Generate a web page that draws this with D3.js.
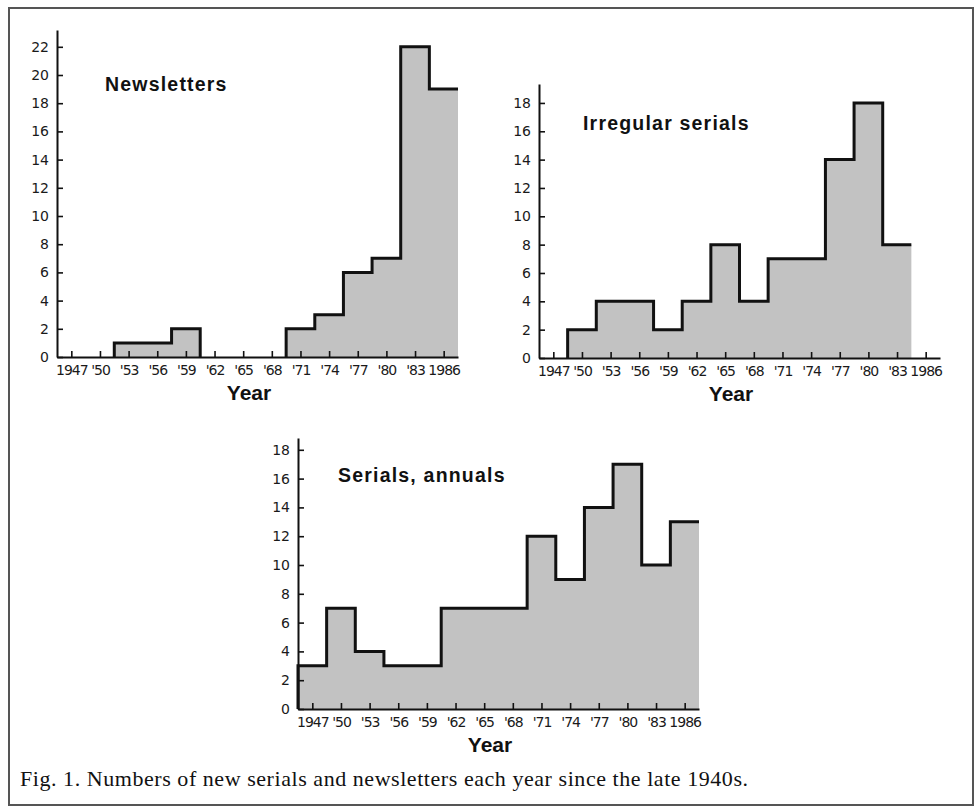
<!DOCTYPE html>
<html>
<head>
<meta charset="utf-8">
<script src="https://cdn.jsdelivr.net/npm/d3@7"></script>
<style>
  body { margin: 0; background: #fff; }
</style>
</head>
<body>
<div id="wrapper"></div>
<script>
// 1. Data
const years = [1947, 1950, 1953, 1956, 1959, 1962, 1965, 1968, 1971, 1974, 1977, 1980, 1983, 1986]
const yearLabels = ["1947", "'50", "'53", "'56", "'59", "'62", "'65", "'68", "'71", "'74", "'77", "'80", "'83", "1986"]
const newsletters = [0, 0, 1, 1, 2, 0, 0, 0, 2, 3, 6, 7, 22, 19]
const irregularSerials = [0, 2, 4, 4, 2, 4, 8, 4, 7, 7, 14, 18, 8, null]
const serialsAnnuals = [3, 7, 4, 3, 3, 7, 7, 7, 12, 9, 14, 17, 10, 13]
const binWidth = 3
const caption = "Fig. 1. Numbers of new serials and newsletters each year since the late 1940s."

// 2. Canvas
const wrapper = d3.select("#wrapper")
  .append("svg")
    .attr("width", 978)
    .attr("height", 808)

wrapper.append("rect")
    .attr("x", 9)
    .attr("y", 8)
    .attr("width", 964)
    .attr("height", 797)
    .attr("fill", "none")
    .attr("stroke", "#555")
    .attr("stroke-width", 2)

const drawHistogram = (values, dims) => {
  const width = 401
  const yTop = (dims.baseline - dims.top) / dims.pxPerUnit

  // scales
  const xScale = d3.scaleLinear()
    .domain([years[0] - binWidth / 2, years[years.length - 1] + binWidth / 2])
    .range([dims.left, dims.left + width])

  const yScale = d3.scaleLinear()
    .domain([0, yTop])
    .range([dims.baseline, dims.top])

  // runs of consecutive non-empty bins
  const runs = []
  let run = null
  values.forEach((v, i) => {
    if (v) {
      if (!run) { run = []; runs.push(run) }
      run.push({ year: years[i], value: v, next: values[i + 1] })
    } else {
      run = null
    }
  })

  const area = d3.area()
    .x(d => xScale(d[0]))
    .y0(yScale(0))
    .y1(d => yScale(d[1]))

  const line = d3.line()
    .x(d => xScale(d[0]))
    .y(d => yScale(d[1]))

  const bounds = wrapper.append("g")

  runs.forEach(r => {
    const pts = [[r[0].year - binWidth / 2, 0]]
    r.forEach(d => {
      pts.push([d.year - binWidth / 2, d.value])
      pts.push([d.year + binWidth / 2, d.value])
    })
    const last = r[r.length - 1]
    bounds.append("path")
        .attr("d", area(pts.concat([[last.year + binWidth / 2, 0]])))
        .attr("fill", "#c2c2c2")
    // only close the step down when more (empty) bins follow
    r.outline = last.next === 0 ? pts.concat([[last.year + binWidth / 2, 0]]) : pts
  })

  // axes
  const yAxisGenerator = d3.axisLeft(yScale)
    .tickValues(d3.range(0, dims.yMax + 1, 2))
    .tickSizeInner(-6)
    .tickSizeOuter(0)
    .tickPadding(8)

  const yAxis = bounds.append("g")
      .attr("transform", `translate(${dims.left},0)`)
      .call(yAxisGenerator)

  const xAxisGenerator = d3.axisBottom(xScale)
    .tickValues(years)
    .tickFormat((d, i) => yearLabels[i])
    .tickSizeInner(-6)
    .tickSizeOuter(0)
    .tickPadding(8)

  const xAxis = bounds.append("g")
      .attr("transform", `translate(0,${dims.baseline})`)
      .call(xAxisGenerator)

  ;[xAxis, yAxis].forEach(a => {
    a.select(".domain").attr("stroke", "#111").attr("stroke-width", 2)
    a.selectAll(".tick line").attr("stroke", "#111").attr("stroke-width", 1.6)
    a.selectAll(".tick text")
        .attr("fill", "#1a1a1a")
        .style("font-family", "'DejaVu Sans', sans-serif")
        .style("font-size", "14px")
  })
  xAxis.selectAll(".tick text").style("letter-spacing", "-1px")

  // outline on top
  runs.forEach(r => {
    bounds.append("path")
        .attr("d", line(r.outline))
        .attr("fill", "none")
        .attr("stroke", "#111")
        .attr("stroke-width", 3)
        .attr("stroke-linejoin", "miter")
  })

  // labels
  bounds.append("text")
      .attr("x", dims.left + 192)
      .attr("y", dims.baseline + 43)
      .attr("text-anchor", "middle")
      .attr("fill", "#111")
      .style("font-family", "'Liberation Sans', Arial, sans-serif")
      .style("font-weight", "bold")
      .style("font-size", "21px")
      .text("Year")

  bounds.append("text")
      .attr("x", dims.titleX)
      .attr("y", dims.titleY)
      .attr("fill", "#111")
      .style("font-family", "'Liberation Sans', Arial, sans-serif")
      .style("font-weight", "bold")
      .style("font-size", "19.5px")
      .style("letter-spacing", "1.2px")
      .text(dims.title)
}

drawHistogram(newsletters, {
  title: "Newsletters", left: 57, baseline: 357, top: 30, pxPerUnit: 14.1, yMax: 22, titleX: 105, titleY: 91,
})
drawHistogram(irregularSerials, {
  title: "Irregular serials", left: 539, baseline: 358, top: 84, pxPerUnit: 14.17, yMax: 18, titleX: 583, titleY: 130,
})
drawHistogram(serialsAnnuals, {
  title: "Serials, annuals", left: 298, baseline: 709, top: 438, pxPerUnit: 14.4, yMax: 18, titleX: 338, titleY: 482,
})

wrapper.append("text")
    .attr("x", 20)
    .attr("y", 786)
    .attr("fill", "#111")
    .attr("textLength", 728)
    .attr("lengthAdjust", "spacing")
    .style("font-family", "'Liberation Serif', 'Times New Roman', serif")
    .style("font-size", "22px")
    .text(caption)
</script>
</body>
</html>
